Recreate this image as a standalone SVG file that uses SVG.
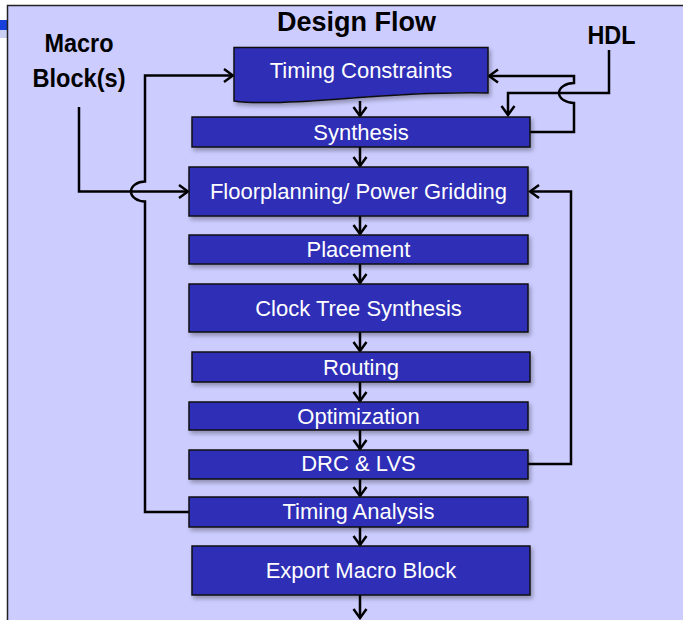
<svg xmlns="http://www.w3.org/2000/svg" width="683" height="620" viewBox="0 0 683 620">
  <style>
    .box { fill: #2F2DB6; stroke: #111; stroke-width: 1.5; filter: url(#shadow); }
    .lbl { font-family: "Liberation Sans", Arial, sans-serif; font-size: 22px; fill: #FFFFFF; text-anchor: middle; }
    .ttl { font-family: "Liberation Sans", Arial, sans-serif; font-weight: bold; fill: #000; }
    .wire { fill: none; stroke: #000; stroke-width: 2.5; }
    .arr { marker-end: url(#head); }
  </style>
  <defs>
    <filter id="shadow" x="-10%" y="-20%" width="125%" height="160%">
      <feDropShadow dx="2" dy="3" stdDeviation="2" flood-color="#000" flood-opacity="0.3"/>
    </filter>
    <marker id="head" viewBox="-11 -8 13 16" refX="0" refY="0" markerWidth="13" markerHeight="16" markerUnits="userSpaceOnUse" orient="auto">
      <path d="M-9,-6.5 L0,0 L-9,6.5" fill="none" stroke="#000" stroke-width="2.5"/>
    </marker>
  </defs>

  <!-- page backdrop -->
  <rect x="0" y="0" width="683" height="620" fill="#FFFFFF"/>
  <rect x="0" y="20" width="8" height="10" fill="#1540DC"/>
  <rect x="0" y="30" width="8" height="8" fill="#C9D0F2"/>
  <rect x="7" y="5" width="680" height="620" fill="#CCCCFF"/>
  <path d="M7.5,620 V5.5 H683" fill="none" stroke="#222" stroke-width="1.5"/>

  <!-- headings -->
  <text class="ttl" x="356.5" y="31" font-size="27.5" text-anchor="middle" textLength="159" lengthAdjust="spacingAndGlyphs">Design Flow</text>
  <text class="ttl" x="79" y="52" font-size="26" text-anchor="middle" textLength="69" lengthAdjust="spacingAndGlyphs">Macro</text>
  <text class="ttl" x="79" y="87" font-size="26" text-anchor="middle" textLength="93" lengthAdjust="spacingAndGlyphs">Block(s)</text>
  <text class="ttl" x="611.5" y="44" font-size="26" text-anchor="middle" textLength="48" lengthAdjust="spacingAndGlyphs">HDL</text>

  <!-- connectors -->
  <g id="connectors">
    <path class="wire arr" d="M360,101 V116"/>
    <path class="wire arr" d="M360,147 V166"/>
    <path class="wire arr" d="M360,216 V234"/>
    <path class="wire arr" d="M360,264 V283"/>
    <path class="wire arr" d="M360,332 V351"/>
    <path class="wire arr" d="M360,382 V401"/>
    <path class="wire arr" d="M360,430 V449"/>
    <path class="wire arr" d="M360,479 V496"/>
    <path class="wire arr" d="M360,527 V545"/>
    <path class="wire arr" d="M360,595 V618"/>
    <!-- macro blocks into floorplanning -->
    <path class="wire arr" d="M79,107 V191.5 H188"/>
    <!-- timing analysis back to constraints, hopping over the macro wire -->
    <path class="wire arr" d="M189,512 H145 V201.5 A14,10 0 0 1 145,181.5 V75.5 H233"/>
    <!-- HDL into synthesis -->
    <path class="wire arr" d="M609,50 V93 H508 V115"/>
    <!-- synthesis back to constraints, hopping over the HDL wire -->
    <path class="wire arr" d="M530,132 H574 V103 A15,10 0 0 1 574,83 V76 H489"/>
    <!-- DRC & LVS back to floorplanning -->
    <path class="wire arr" d="M528,464 H571 V191.5 H530"/>
  </g>

  <!-- flow steps -->
  <g id="timing-constraints">
    <path class="box" d="M234,47.5 H488 V93 C440,92 390,95 340,99 C295,102.5 255,104 234,101 Z"/>
    <text class="lbl" x="361" y="77.5">Timing Constraints</text>
  </g>
  <g id="synthesis">
    <rect class="box" x="192" y="117" width="338" height="30"/>
    <text class="lbl" x="361" y="140">Synthesis</text>
  </g>
  <g id="floorplanning">
    <rect class="box" x="189" y="167" width="339" height="49"/>
    <text class="lbl" x="358.5" y="199">Floorplanning/ Power Gridding</text>
  </g>
  <g id="placement">
    <rect class="box" x="189" y="235" width="339" height="29"/>
    <text class="lbl" x="358.5" y="257">Placement</text>
  </g>
  <g id="clock-tree-synthesis">
    <rect class="box" x="189" y="284" width="339" height="48"/>
    <text class="lbl" x="358.5" y="315.5">Clock Tree Synthesis</text>
  </g>
  <g id="routing">
    <rect class="box" x="192" y="352" width="338" height="30"/>
    <text class="lbl" x="361" y="375">Routing</text>
  </g>
  <g id="optimization">
    <rect class="box" x="189" y="402" width="339" height="28"/>
    <text class="lbl" x="358.5" y="423.5">Optimization</text>
  </g>
  <g id="drc-lvs">
    <rect class="box" x="189" y="450" width="339" height="29"/>
    <text class="lbl" x="358.5" y="471">DRC &amp; LVS</text>
  </g>
  <g id="timing-analysis">
    <rect class="box" x="189" y="497" width="339" height="30"/>
    <text class="lbl" x="358.5" y="519">Timing Analysis</text>
  </g>
  <g id="export-macro-block">
    <rect class="box" x="192" y="546" width="338" height="49"/>
    <text class="lbl" x="361" y="577.5">Export Macro Block</text>
  </g>
</svg>
